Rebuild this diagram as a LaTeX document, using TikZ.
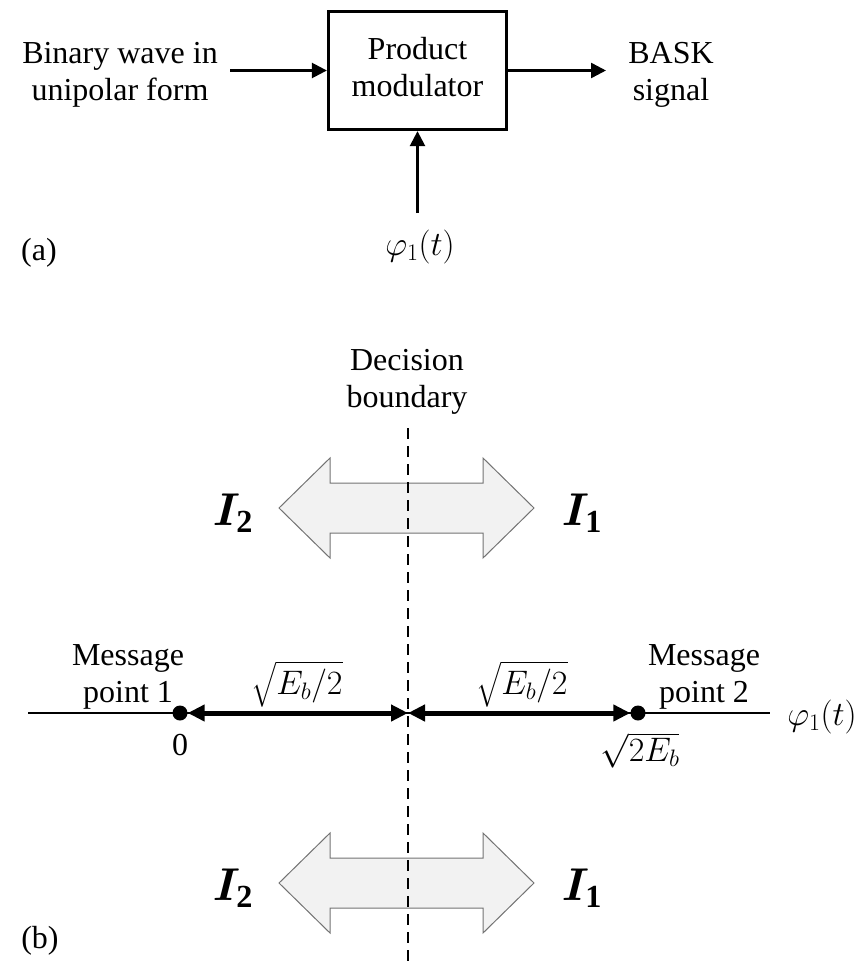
\RequirePackage{fix-cm}
\documentclass[tikz,border=0pt]{standalone}
\usepackage{fontspec}
\setmainfont{Liberation Serif}
\usepackage{amsmath,bm}
\usetikzlibrary{arrows.meta}
\begin{document}
\begin{tikzpicture}[x=1pt,y=-1pt,
  txt/.style={font=\fontsize{32}{37}\selectfont, align=center, inner sep=2pt},
  mth/.style={font=\fontsize{34}{40}\selectfont, inner sep=1pt},
  bigI/.style={font=\fontsize{46}{54}\selectfont, inner sep=1pt},
  ar/.style={line width=2.5pt, -{Triangle[length=15pt,width=15pt]}},
  dimarrow/.style={line width=5pt, {Triangle[length=17pt,width=16pt]}-{Triangle[length=17pt,width=16pt]}},
  msgdot/.style={circle, fill=black, inner sep=0pt, minimum size=15pt},
  regionarrow/.style={draw=black!55, fill=black!5, line width=1pt, line join=miter},
  boundary/.style={line width=2.4pt, dash pattern=on 11pt off 7pt}
]
\useasboundingbox (0,0) rectangle (865,961);

% ---------- (a) ----------
\node[txt] (bin) at (120,75) {\strut Binary wave in\\\strut unipolar form};
\node[txt, draw, line width=3.3pt, minimum width=178pt, minimum height=118pt] (mod) at (417.5,70.5) {\strut Product\\\strut modulator};
\node[txt] (bask) at (671,75) {\strut BASK\\\strut signal};
\coordinate (inS) at (230,70.5);
\coordinate (outE) at (606,70.5);
\draw[ar] (inS) -- (mod.west);
\draw[ar] (mod.east) -- (outE);
\node[mth] (phiA) at (420,247) {$\varphi_1(t)$};
\coordinate (phiIn) at (417.5,213);
\draw[ar] (phiIn) -- (mod.south);
\node[txt] (la) at (39,253) {(a)};

% ---------- (b) ----------
\node[txt] (dec) at (407,382) {\strut Decision\\\strut boundary};

\foreach \cy in {508,883}{
  \draw[regionarrow] (279,\cy) -- (330,\cy-50) -- (330,\cy-25) -- (483,\cy-25) -- (483,\cy-50)
     -- (534,\cy) -- (483,\cy+50) -- (483,\cy+25) -- (330,\cy+25) -- (330,\cy+50) -- cycle;
}
\node[bigI] (i2t) at (233,513) {$\bm{I}_{\mathbf{2}}$};
\node[bigI] (i1t) at (582,513) {$\bm{I}_{\mathbf{1}}$};
\node[bigI] (i2b) at (233,888) {$\bm{I}_{\mathbf{2}}$};
\node[bigI] (i1b) at (582,888) {$\bm{I}_{\mathbf{1}}$};

\coordinate (dtop) at (408,428);
\coordinate (dbot) at (408,961);
\draw[boundary] (dtop) -- (dbot);

\coordinate (axL) at (28,713);
\coordinate (axR) at (770,713);
\draw[line width=1.5pt] (axL) -- (axR);
\node[msgdot] (m1) at (180,713) {};
\node[msgdot] (m2) at (638,713) {};
\coordinate (mid) at (408,713);
\draw[dimarrow] (m1) -- (mid);
\draw[dimarrow] (mid) -- (m2);

\node[txt] (mp1) at (128,677) {\strut Message\\\strut point 1};
\node[txt] (mp2) at (704,677) {\strut Message\\\strut point 2};
\node[txt] (zero) at (180,745) {0};
\node[mth] (s2e) at (640,750) {$\sqrt{2E_b}$};
\node[mth] (h1) at (297,684) {$\sqrt{E_b/2}$};
\node[mth] (h2) at (522,684) {$\sqrt{E_b/2}$};
\node[mth] (phiB) at (822,717) {$\varphi_1(t)$};
\node[txt] (lb) at (40,941) {(b)};
\end{tikzpicture}
\end{document}
